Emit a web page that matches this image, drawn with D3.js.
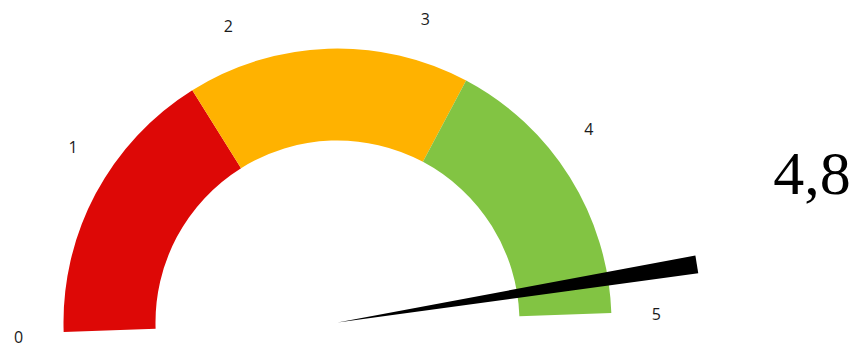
<!DOCTYPE html>
<html><head><meta charset="utf-8">
<script src="https://cdn.jsdelivr.net/npm/d3@7"></script>
<style>body{margin:0;background:#fff}</style>
</head><body>
<svg id="c" width="858" height="347"></svg>
<script>
const bands = [0, 5/3, 10/3, 5];
const bandColors = ["#dd0806", "#ffb200", "#82c443"];
const ticks = [0, 1, 2, 3, 4, 5];
const tickLabels = ["0", "1", "2", "3", "4", "5"];
const value = 4.8;
const valueLabel = "4,8";

const svg = d3.select("#c");
const cx = 337.5, cy = 322.5, tilt = -2;
const rOuter = 274, rInner = 182, rLabel = 319, rNeedle = 364;
const ang = d3.scaleLinear().domain([0, 5]).range([-Math.PI/2, Math.PI/2]);

const g = svg.append("g").attr("transform", `translate(${cx},${cy}) rotate(${tilt})`);
const arc = d3.arc().innerRadius(rInner).outerRadius(rOuter);
g.selectAll("path.band").data(d3.range(bands.length - 1)).join("path")
  .attr("class", "band")
  .attr("d", i => arc({startAngle: ang(bands[i]), endAngle: ang(bands[i+1])}))
  .attr("fill", i => bandColors[i]);

// needle
const a = ang(value);
const ux = Math.sin(a), uy = -Math.cos(a);
const px = -uy, py = ux;
const hw = 9;
const pts = [[0, 0], [ux*rNeedle + px*hw, uy*rNeedle + py*hw], [ux*rNeedle - px*hw, uy*rNeedle - py*hw]];
g.append("path").attr("d", d3.line()(pts) + "Z").attr("fill", "#000");

// tick labels
const rad = tilt * Math.PI / 180;
svg.selectAll("text.tick").data(ticks).join("text")
  .attr("class", "tick")
  .attr("x", d => { const t = ang(d); const x = Math.sin(t)*rLabel, y = -Math.cos(t)*rLabel; return cx + x*Math.cos(rad) - y*Math.sin(rad); })
  .attr("y", d => { const t = ang(d); const x = Math.sin(t)*rLabel, y = -Math.cos(t)*rLabel; return cy + x*Math.sin(rad) + y*Math.cos(rad) + 3; })
  .attr("text-anchor", "middle").attr("dominant-baseline", "central")
  .attr("font-family", "Open Sans, sans-serif").attr("font-size", 16).attr("fill", "#1a1a1a")
  .text((d, i) => tickLabels[i]);

svg.append("text").attr("x", 812).attr("y", 194).attr("text-anchor", "middle")
  .attr("font-family", "Liberation Serif, serif").attr("font-size", 62).attr("fill", "#000")
  .text(valueLabel);
</script>
</body></html>
